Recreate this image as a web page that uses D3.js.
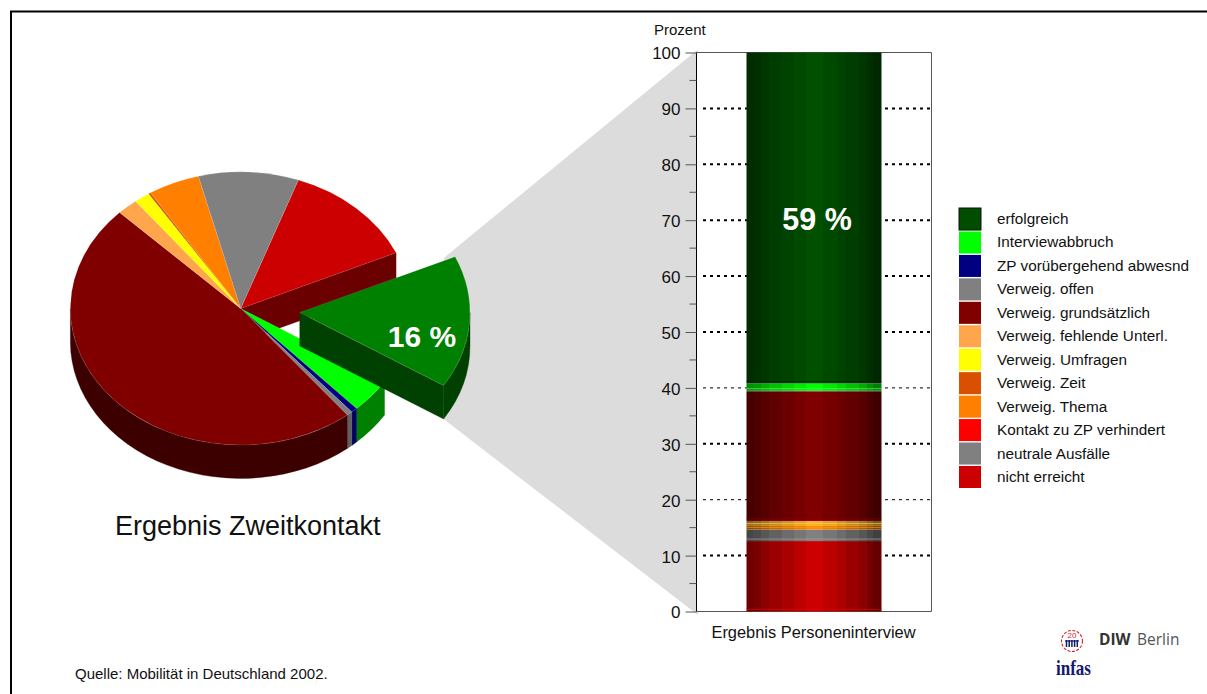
<!DOCTYPE html>
<html><head><meta charset="utf-8">
<script src="https://cdn.jsdelivr.net/npm/d3@7"></script>
<style>
html,body{margin:0;padding:0;background:#fff;overflow:hidden}
svg{display:block}
text{font-family:"Liberation Sans",Arial,sans-serif;fill:#111}
</style></head><body>
<svg id="c" width="1207" height="694"></svg>
<script>
// Pie (clockwise from the slice boundary at the upper right)
const pieCategories=["nicht erreicht","erfolgreich","Interviewabbruch","ZP vorübergehend abwesnd","Verweig. offen","Verweig. grundsätzlich","Verweig. fehlende Unterl.","Verweig. Umfragen","Verweig. Zeit","Verweig. Thema","neutrale Ausfälle"];
const pieValues=[12.8,15.7,4.1,0.6,0.55,48.2,2.0,1.5,0.2,4.9,9.5];
const pieColors=["#cc0000","#008000","#00ff00","#000080","#808080","#800000","#ffa64d","#ffff00","#d95000","#ff8000","#808080"];
const pieWalls=["#6b0000","#004000","#008000","#000060","#606060","#3c0000","#a86a30","#a8a800","#8c3400","#a85400","#505050"];
// Stacked bar, bottom to top
const barCategories=["nicht erreicht","neutrale Ausfälle","Kontakt zu ZP verhindert","Verweig. Thema","Verweig. Zeit","Verweig. Umfragen","Verweig. fehlende Unterl.","Verweig. grundsätzlich","Verweig. offen","ZP vorübergehend abwesnd","Interviewabbruch","erfolgreich"];
const barValues=[12.6,2.06,0.02,0.62,0.05,0.45,0.4,23.2,0.05,0.05,1.3,59.2];
const barColors=["#cc0000","#808080","#ff0000","#ff8c00","#d95000","#ffb000","#ffa64d","#800000","#808080","#000080","#00ff00","#005000"];
const barAccents=["#e00000","#a8a8a8",null,"#ff9a1a",null,"#ffd23c",null,"#8c0000",null,null,"#60ff60","#002200"];
// Cylinder shading bands of the bar
const bandEdges=[0,.05,.11,.17,.26,.35,.44,.57,.67,.74,.83,.89,.94,1];
const bandShade=[.55,.6,.68,.76,.84,.92,1,.92,.84,.76,.68,.58,.5];
// Legend
const legendLabels=["erfolgreich","Interviewabbruch","ZP vorübergehend abwesnd","Verweig. offen","Verweig. grundsätzlich","Verweig. fehlende Unterl.","Verweig. Umfragen","Verweig. Zeit","Verweig. Thema","Kontakt zu ZP verhindert","neutrale Ausfälle","nicht erreicht"];
const legendColors=["#004d00","#00ff00","#000080","#808080","#800000","#ffa64d","#ffff00","#d95000","#ff8000","#ff0000","#808080","#cc0000"];
// Axis
const yTicks=[0,10,20,30,40,50,60,70,80,90,100];
const yMinor=[5,15,25,35,45,55,65,75,85,95];
const gridValues=[10,20,30,40,50,60,70,80,90];
const thinGrid=[20,40];
const pieLabel="16 %",barLabel="59 %",pieTitle="Ergebnis Zweitkontakt",source="Quelle: Mobilität in Deutschland 2002.",yTitle="Prozent";

const svg=d3.select("#c");
// frame
svg.append("path").attr("d","M11,694V11.5H1207").attr("fill","none").attr("stroke","#000").attr("stroke-width",2);

// scales
const y=d3.scaleLinear().domain([0,100]).range([611.5,52.5]);
const x=d3.scaleBand().domain(["Ergebnis Personeninterview"]).range([696.5,931.5]).paddingOuter(.3704).paddingInner(0);
const bx=x("Ergebnis Personeninterview"),bw=x.bandwidth();

// pie geometry
const cx=240.7,cy=308.5,rx=170.3,ry=136.5,k=ry/rx,depth=33.5,burst={dx:59,dy:4,i:1};
const start=19.8*Math.PI/180;
const arcs=d3.pie().sort(null).startAngle(start).endAngle(start+2*Math.PI)(pieValues);
const arc=d3.arc().innerRadius(0).outerRadius(rx);
const d=depth/k;
const rim=(a,ox=0,oy=0)=>[cx+ox+rx*Math.sin(a),cy+oy-ry*Math.cos(a)];

// connector wedge
const gb=arcs[burst.i];
const rs=rim(gb.startAngle,burst.dx,burst.dy),re=rim(gb.endAngle,burst.dx,burst.dy+depth);
svg.append("path").attr("fill","#dcdcdc")
 .attr("d",d3.line()([[rs[0]-11,rs[1]+1],[x.range()[0],y(100)-2],[x.range()[0]+1.5,y(100)-2],[x.range()[0]+1.5,y(0)+3.5],[re[0],re[1]]])+"Z");

function wall(g,a0,a1,fill){
  const lo=Math.max(a0,Math.PI/2),hi=Math.min(a1,3*Math.PI/2);
  if(hi<=lo) return;
  const p=d3.path();
  p.arc(0,0,rx,lo-Math.PI/2,hi-Math.PI/2);
  p.arc(0,d,rx,hi-Math.PI/2,lo-Math.PI/2,true);
  p.closePath();
  g.append("path").attr("d",p.toString()).attr("fill",fill).attr("stroke",fill).attr("stroke-width",.4);
}
function face(g,a,fill){
  const px=rx*Math.sin(a),py=-rx*Math.cos(a);
  g.append("path").attr("d",d3.line()([[0,0],[px,py],[px,py+d],[0,d]])+"Z").attr("fill",fill).attr("stroke",fill).attr("stroke-width",.3);
}
const main=svg.append("g").attr("transform",`translate(${cx},${cy}) scale(1,${k})`);
const ex=svg.append("g").attr("transform",`translate(${cx+burst.dx},${cy+burst.dy}) scale(1,${k})`);
// walls of the main pie
face(main,arcs[0].endAngle,pieWalls[0]);
arcs.forEach((a,i)=>{ if(i!==burst.i) wall(main,a.startAngle,a.endAngle,pieWalls[i]); });
arcs.forEach((a,i)=>{ if(i!==burst.i) main.append("path").attr("d",arc(a)).attr("fill",pieColors[i]).attr("stroke","rgba(255,255,255,.22)").attr("stroke-width",.5); });
// exploded slice
face(ex,gb.endAngle,pieWalls[burst.i]);
wall(ex,gb.startAngle,gb.endAngle,pieWalls[burst.i]);
ex.append("path").attr("d",arc(gb)).attr("fill",pieColors[burst.i]).attr("stroke","rgba(255,255,255,.22)").attr("stroke-width",.5);
const w1=rim(gb.endAngle,burst.dx,burst.dy);
svg.append("line").attr("x1",w1[0]).attr("x2",w1[0]).attr("y1",w1[1]).attr("y2",w1[1]+depth).attr("stroke","#0b5a0b").attr("stroke-width",.6);

svg.append("text").text(pieLabel).attr("x",422).attr("y",347).attr("text-anchor","middle").style("font-weight","bold").style("font-size","30px").style("fill","#fff");
svg.append("text").text(pieTitle).attr("x",115).attr("y",535).style("font-size","27px");
svg.append("text").text(source).attr("x",75).attr("y",679).style("font-size","15px");

// bar panel
const x0=x.range()[0],x1=x.range()[1];
svg.append("rect").attr("x",x0).attr("y",y(100)).attr("width",x1-x0).attr("height",y(0)-y(100)).attr("fill","#fff");
svg.append("g").selectAll("line").data(gridValues).join("line")
 .attr("x1",x0+6.5).attr("x2",x1).attr("y1",v=>y(v)).attr("y2",v=>y(v))
 .attr("stroke","#000").attr("stroke-width",v=>thinGrid.includes(v)?1:2).attr("stroke-dasharray","3 4");

// frame right/top/bottom
svg.append("path").attr("d",`M${x0},${y(100)}H${x1}V${y(0)}H${x0}`).attr("fill","none").attr("stroke","#555").attr("stroke-width",1);

// stacked bar
const defs=svg.append("defs");
let acc=0;
const segs=barValues.map((v,i)=>{const s={i,y0:acc,y1:acc+v};acc+=v;return s;});
segs.forEach(s=>{
  const g=defs.append("linearGradient").attr("id","g"+s.i).attr("x1",0).attr("x2",1).attr("y1",0).attr("y2",0);
  const col=d3.rgb(barColors[s.i]);
  bandShade.forEach((f,j)=>{
    const c=d3.rgb(col.r*f,col.g*f,col.b*f).formatHex();
    g.append("stop").attr("offset",bandEdges[j]).attr("stop-color",c);
    g.append("stop").attr("offset",bandEdges[j+1]).attr("stop-color",c);
  });
});
svg.append("g").selectAll("rect").data(segs).join("rect")
 .attr("x",bx).attr("width",bw).attr("y",s=>y(s.y1)).attr("height",s=>y(s.y0)-y(s.y1)).attr("fill",s=>`url(#g${s.i})`);
svg.append("g").selectAll("line").data(segs.filter(s=>barAccents[s.i])).join("line")
 .attr("x1",bx).attr("x2",bx+bw).attr("y1",s=>y(s.y0)-2).attr("y2",s=>y(s.y0)-2)
 .attr("stroke",s=>barAccents[s.i]).attr("stroke-width",1).attr("stroke-opacity",.65);
svg.append("text").text(barLabel).attr("x",bx+bw/2+3).attr("y",230).attr("text-anchor","middle").style("font-weight","bold").style("font-size","30.5px").style("fill","#fff");

// axis
const axis=d3.axisLeft(y).tickValues(yTicks).tickSize(11).tickPadding(5).tickFormat(d3.format("d"));
const ag=svg.append("g").attr("transform",`translate(${x0},0)`).call(axis);
ag.select(".domain").attr("stroke","#000").attr("d",`M0,${y(100)}V${y(0)}`);
ag.selectAll(".tick line").attr("stroke","#555");
ag.selectAll(".tick text").style("font-size","17px").style("font-family",'"Liberation Sans",Arial,sans-serif').attr("fill","#111").attr("dy","0.38em");
ag.append("g").selectAll("line").data(yMinor).join("line").attr("x1",-7).attr("x2",0).attr("y1",v=>y(v)).attr("y2",v=>y(v)).attr("stroke","#555");
svg.append("text").text(yTitle).attr("x",654).attr("y",35).style("font-size","15px");
svg.append("text").text(x.domain()[0]).attr("x",bx+bw/2-0.5).attr("y",638).attr("text-anchor","middle").style("font-size","16.4px");

// legend
const ly=d3.scaleBand().domain(d3.range(legendLabels.length)).range([208,488]).paddingInner(.06).paddingOuter(0);
const lg=svg.append("g");
lg.selectAll("rect").data(legendLabels).join("rect").attr("x",959).attr("width",22).attr("y",(t,i)=>ly(i)).attr("height",ly.bandwidth())
 .attr("fill",(t,i)=>legendColors[i]).attr("stroke",(t,i)=>i===0?"#111":"none").attr("stroke-width",1);
lg.selectAll("text").data(legendLabels).join("text").text(t=>t).attr("x",997).attr("y",(t,i)=>ly(i)+ly.bandwidth()/2+5).style("font-size","15.3px");

// logos
const logo=svg.append("g");
logo.append("text").text("DIW").attr("x",1099).attr("y",645).style("font-family",'"Open Sans"').style("font-weight","bold").style("font-size","15.5px").style("fill","#333");
logo.append("text").text("Berlin").attr("x",1137).attr("y",645).style("font-family",'"Open Sans"').style("font-size","15.5px").style("fill","#555");
logo.append("circle").attr("cx",1072).attr("cy",641).attr("r",10.5).attr("fill","none").attr("stroke","#d8202a").attr("stroke-width",1.1).attr("stroke-dasharray","3 1.5");
logo.append("text").text("20").attr("x",1072).attr("y",638).attr("text-anchor","middle").style("font-size","8px").style("fill","#d8202a");
logo.append("g").selectAll("line").data(d3.range(5)).join("line").attr("x1",i=>1066.5+i*2.7).attr("x2",i=>1066.5+i*2.7).attr("y1",640).attr("y2",647).attr("stroke","#141a6e").attr("stroke-width",1.5);
logo.append("line").attr("x1",1065).attr("x2",1079).attr("y1",641).attr("y2",641).attr("stroke","#141a6e").attr("stroke-width",1.2);
logo.append("text").text("infas").attr("x",1056).attr("y",675).attr("textLength",35).attr("lengthAdjust","spacingAndGlyphs").style("font-family",'"Liberation Serif"').style("font-weight","bold").style("font-size","21px").style("fill","#141a6e");
</script>
</body></html>
